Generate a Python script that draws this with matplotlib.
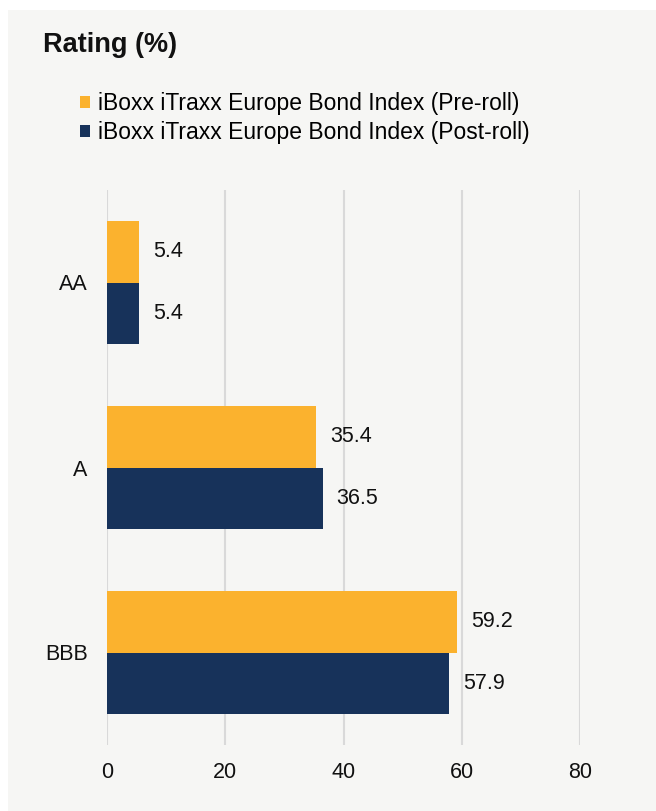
import numpy as np
import matplotlib.pyplot as plt
from matplotlib.patches import Patch, Rectangle

# data
categories = ["AA", "A", "BBB"]
pre_roll = [5.4, 35.4, 59.2]
post_roll = [5.4, 36.5, 57.9]
series_names = ["iBoxx iTraxx Europe Bond Index (Pre-roll)",
                "iBoxx iTraxx Europe Bond Index (Post-roll)"]
x_ticks = [0, 20, 40, 60, 80]

orange = "#fbb22e"
navy = "#17325a"
panel = "#f6f6f4"

plt.rcParams["font.family"] = ["Liberation Sans", "DejaVu Sans"]

fig = plt.figure(figsize=(6.56, 8.11), dpi=100, facecolor="white")
fig.patches.append(Rectangle((8 / 656, 0), 1, 1 - 10 / 811, transform=fig.transFigure,
                             facecolor=panel, edgecolor="none", zorder=-10))

ax = fig.add_axes([107 / 656, 66 / 811, 473 / 656, 555 / 811])
ax.set_facecolor("none")

y = np.arange(len(categories))
h = 0.33
b1 = ax.barh(y - h / 2, pre_roll, height=h, color=orange, zorder=3)
b2 = ax.barh(y + h / 2, post_roll, height=h, color=navy, zorder=3)
ax.bar_label(b1, labels=[f"{v:.1f}" for v in pre_roll], padding=10, fontsize=15.5, color="#111111")
ax.bar_label(b2, labels=[f"{v:.1f}" for v in post_roll], padding=10, fontsize=15.5, color="#111111")

ax.set_xlim(0, 80)
ax.set_ylim(2.5, -0.5)
ax.set_xticks(x_ticks)
ax.set_yticks(y)
ax.set_yticklabels(categories)
ax.tick_params(axis="both", length=0, labelsize=15.5, colors="#111111")
ax.tick_params(axis="y", pad=14)
ax.tick_params(axis="x", pad=12)
ax.grid(axis="x", color="#d9d9d9", linewidth=1.5, zorder=0)
for s in ax.spines.values():
    s.set_visible(False)

fig.text(43 / 656, 1 - 45 / 811, "Rating (%)", fontsize=19.5, fontweight="bold",
         va="center", ha="left", color="#111111")

handles = [Patch(facecolor=orange), Patch(facecolor=navy)]
fig.legend(handles, series_names, loc="upper left", bbox_to_anchor=(80 / 656, 1 - 92 / 811),
           frameon=False, fontsize=16.5, handlelength=0.45, handleheight=0.45,
           handletextpad=0.35, labelspacing=0.28, borderaxespad=0, borderpad=0)

fig.savefig("out.png", dpi=100, facecolor="white")
